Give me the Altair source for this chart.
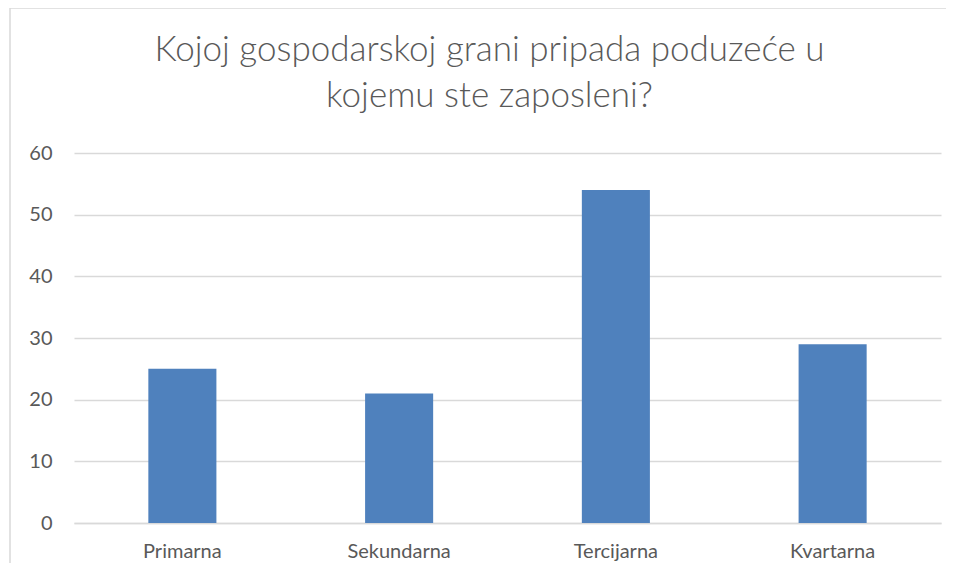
import altair as alt
import pandas as pd

categories = ["Primarna", "Sekundarna", "Tercijarna", "Kvartarna"]
values = [25, 21, 54, 29]
y_ticks = [0, 10, 20, 30, 40, 50, 60]
title_lines = ["Kojoj gospodarskoj grani pripada poduzeće u", "kojemu ste zaposleni?"]

df = pd.DataFrame({"kategorija": categories, "vrijednost": values})

W, H = 867, 370
FONT = "Lato"
GREY = "#595959"
BORDER = "#d9d9d9"

bars = alt.Chart(df).mark_bar(color="#4F81BD").encode(
    x=alt.X(
        "kategorija:N",
        sort=categories,
        scale=alt.Scale(paddingInner=0.686, paddingOuter=0.343),
        axis=alt.Axis(
            title=None, labelAngle=0, labelFont=FONT, labelFontSize=20,
            labelColor=GREY, ticks=False, domain=True, domainColor=BORDER,
            domainWidth=1.5, labelPadding=18, grid=False,
        ),
    ),
    y=alt.Y(
        "vrijednost:Q",
        scale=alt.Scale(domain=[0, 60]),
        axis=alt.Axis(
            title=None, values=y_ticks, labelFont=FONT, labelFontSize=20,
            labelColor=GREY, ticks=False, domain=False, gridColor=BORDER,
            gridWidth=1.5, labelPadding=22,
        ),
    ),
)

title = alt.Chart(pd.DataFrame({"t": ["\n".join(title_lines)]})).mark_text(
    font=FONT, fontSize=35, fontWeight=300, color=GREY, align="center",
    baseline="top", lineBreak="\n", lineHeight=46,
).encode(text="t:N", x=alt.value(W / 2 - 18), y=alt.value(-120))

one = pd.DataFrame({"a": [0]})
border_left = alt.Chart(one).mark_rule(
    stroke=BORDER, strokeWidth=1.5, clip=False
).encode(x=alt.value(-64), y=alt.value(-145), y2=alt.value(H + 120))
border_top = alt.Chart(one).mark_rule(
    stroke=BORDER, strokeWidth=1.5, clip=False
).encode(x=alt.value(-64), x2=alt.value(W + 80), y=alt.value(-145))

chart = alt.layer(bars, title, border_left, border_top).properties(
    width=W,
    height=H,
    background="white",
    autosize=alt.AutoSizeParams(type="none"),
    padding={"left": 66, "top": 145, "right": 5, "bottom": 40},
).configure_view(strokeWidth=0, stroke=None)

chart.save("out.html", embed_options={"renderer": "svg", "actions": False})
